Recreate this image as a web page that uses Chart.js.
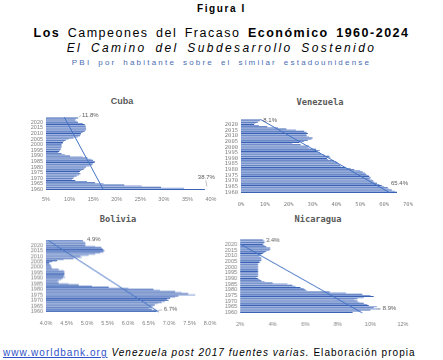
<!DOCTYPE html>
<html>
<head>
<meta charset="utf-8">
<script src="https://cdn.jsdelivr.net/npm/chart.js@4.4.1/dist/chart.umd.min.js"></script>
<style>
  body { margin: 0; width: 443px; height: 360px; background: #fff; position: relative; overflow: hidden; font-family: "Liberation Sans", Arial, sans-serif; }
  .t { position: absolute; white-space: nowrap; text-align: center; line-height: 1; }
  .box { position: absolute; }
  .ctitle { position: absolute; font-weight: bold; color: #595959; text-align: center; white-space: nowrap; line-height: 1; }
  a { color: #2f52c8; }
</style>
</head>
<body>

<div class="t" style="left:0;width:443px;top:4px;font-size:10px;letter-spacing:1.6px;font-weight:bold;">Figura I</div>
<div class="t" style="left:0;width:443px;top:27px;font-size:12.5px;letter-spacing:1.5px;word-spacing:2.5px;"><b>Los</b> Campeones del Fracaso <b>Económico 1960-2024</b></div>
<div class="t" style="left:0;width:443px;top:42px;font-size:12px;font-style:italic;letter-spacing:2.4px;word-spacing:3px;">El Camino del Subdesarrollo Sostenido</div>
<div class="t" style="left:0;width:443px;top:59px;font-size:8px;letter-spacing:2.2px;word-spacing:2.5px;color:#4a6db3;">PBI por habitante sobre el similar estadounidense</div>

<div class="ctitle" style="left:72px;width:100px;top:97px;font-size:9px;">Cuba</div>
<div class="ctitle" style="left:270px;width:100px;top:98px;font-size:8.7px;font-family:'DejaVu Sans Mono',monospace;">Venezuela</div>
<div class="ctitle" style="left:68px;width:100px;top:215px;font-size:8.7px;font-family:'DejaVu Sans Mono',monospace;">Bolivia</div>
<div class="ctitle" style="left:268px;width:100px;top:215px;font-size:8.7px;font-family:'DejaVu Sans Mono',monospace;">Nicaragua</div>

<div class="box" id="b-cuba"><canvas id="cuba"></canvas></div>
<div class="box" id="b-venezuela"><canvas id="venezuela"></canvas></div>
<div class="box" id="b-bolivia"><canvas id="bolivia"></canvas></div>
<div class="box" id="b-nicaragua"><canvas id="nicaragua"></canvas></div>

<div class="t" style="left:3px;top:348px;font-size:10px;letter-spacing:1.05px;text-align:left;"><a href="#">www.worldbank.org</a> <i>Venezuela post 2017 fuentes varias.</i> Elaboración propia</div>

<script>
// years shown on every chart, bottom (1960) to top (2024)
const years = [
  1960, 1961, 1962, 1963, 1964, 1965, 1966, 1967, 1968, 1969,
  1970, 1971, 1972, 1973, 1974, 1975, 1976, 1977, 1978, 1979,
  1980, 1981, 1982, 1983, 1984, 1985, 1986, 1987, 1988, 1989,
  1990, 1991, 1992, 1993, 1994, 1995, 1996, 1997, 1998, 1999,
  2000, 2001, 2002, 2003, 2004, 2005, 2006, 2007, 2008, 2009,
  2010, 2011, 2012, 2013, 2014, 2015, 2016, 2017, 2018, 2019,
  2020, 2021, 2022, 2023, 2024
];
const yearTicks = [1960, 1965, 1970, 1975, 1980, 1985, 1990, 1995, 2000, 2005, 2010, 2015, 2020];

// GDP per capita as % of the US value
const cuba = [
  38.7, 34.3, 29.4, 25.3, 21.6, 17.2, 15.4, 13.7, 11.2, 10.5,
  10.8, 11.0, 11.5, 12.0, 12.3, 12.0, 12.2, 12.5, 13.0, 13.2,
  13.5, 14.2, 14.8, 15.0, 15.3, 15.4, 15.0, 14.5, 13.8, 12.8,
  10.1, 9.0, 8.3, 7.6, 7.8, 8.0, 8.1, 8.2, 8.3, 8.3,
  8.3, 8.5, 8.6, 8.8, 9.2, 9.8, 10.8, 11.8, 12.2, 12.4,
  12.4, 12.8, 13.2, 13.4, 13.5, 13.5, 13.4, 13.4, 13.2, 12.8,
  11.8, 11.5, 11.2, 11.3, 11.8
];
const venezuela = [
  65.4, 64.5, 63.2, 62.0, 61.5, 60.0, 59.0, 58.0, 57.0, 56.0,
  55.5, 55.0, 54.0, 54.5, 53.8, 53.5, 52.5, 52.0, 51.0, 50.0,
  47.5, 46.0, 44.0, 42.0, 41.5, 41.0, 40.5, 40.0, 39.0, 36.5,
  36.0, 37.5, 37.0, 35.0, 33.5, 33.0, 32.0, 33.0, 31.5, 28.5,
  28.0, 28.5, 25.0, 21.5, 24.5, 26.5, 28.0, 29.5, 30.0, 28.5,
  27.5, 27.5, 28.0, 27.5, 26.5, 23.0, 19.0, 15.5, 11.0, 7.5,
  5.5, 6.0, 7.0, 7.8, 8.1
];
const bolivia = [
  6.70, 6.70, 6.58, 6.50, 6.56, 6.62, 6.66, 6.73, 6.82, 6.90,
  6.99, 6.95, 7.03, 7.15, 7.23, 7.64, 7.47, 7.31, 7.15, 6.78,
  6.62, 6.01, 5.53, 5.12, 4.80, 4.55, 4.31, 4.27, 4.31, 4.37,
  4.41, 4.47, 4.43, 4.45, 4.45, 4.45, 4.45, 4.43, 4.31, 4.15,
  4.13, 4.13, 4.11, 4.08, 4.08, 4.15, 4.27, 4.43, 4.67, 4.88,
  4.84, 5.04, 5.20, 5.32, 5.40, 5.43, 5.40, 5.38, 5.35, 5.20,
  4.96, 4.96, 4.96, 4.94, 4.90
];
const nicaragua = [
  8.9, 9.4, 10.0, 10.6, 10.2, 10.4, 9.9, 9.8, 9.6, 9.3,
  9.2, 9.0, 9.2, 9.6, 10.2, 10.0, 9.5, 8.5, 7.5, 6.1,
  6.0, 5.9, 5.7, 5.4, 5.2, 4.9, 4.0, 3.5, 3.3, 3.2,
  3.1, 3.0, 3.1, 3.1, 3.1, 3.1, 3.1, 3.1, 3.1, 3.1,
  3.1, 3.1, 3.1, 3.1, 3.2, 3.2, 3.3, 3.3, 3.3, 3.2,
  3.2, 3.3, 3.4, 3.5, 3.6, 3.8, 3.85, 3.85, 3.6, 3.5,
  3.4, 3.45, 3.5, 3.5, 3.4
];

// linear trend lines: value at 1960 and value at 2024
const cubaTrend = [17.2, 8.9];
const venezuelaTrend = [62.5, 8.1];
const boliviaTrend = [6.75, 4.05];
const nicaraguaTrend = [9.5, 1.5];

const barColors = ['#3b62b2', '#819cd6'];
const tickColor = '#7f7f7f';

// draws the first/last value labels next to their bars
const endLabels = {
  id: 'endLabels',
  afterDatasetsDraw(chart, args, opts) {
    const ctx = chart.ctx;
    const meta = chart.getDatasetMeta(0);
    const vals = chart.data.datasets[0].data;
    const items = [[0, opts.first], [vals.length - 1, opts.last]];
    ctx.save();
    ctx.font = '6px "Liberation Sans", Arial, sans-serif';
    ctx.fillStyle = '#595959';
    ctx.strokeStyle = '#a6a6a6';
    ctx.lineWidth = 0.7;
    ctx.textBaseline = 'middle';
    ctx.textAlign = 'left';
    for (const [i, spec] of items) {
      const el = meta.data[i];
      const txt = vals[i].x.toFixed(1) + '%';
      ctx.fillText(txt, el.x + spec.dx, el.y + spec.dy);
      if (spec.lead) {
        ctx.beginPath();
        ctx.moveTo(el.x + spec.lead[0], el.y + spec.lead[1]);
        ctx.lineTo(el.x + spec.lead[2], el.y + spec.lead[3]);
        ctx.stroke();
      }
    }
    ctx.restore();
  }
};

function makeChart(id, vals, trend, xr, plot, labelPos, tickFont, xPad) {
  const W = plot.r - plot.l + 42, H = plot.b - plot.t + 18;
  const box = document.getElementById('b-' + id);
  box.style.left = (plot.l - 30) + 'px';
  box.style.top = (plot.t - 4) + 'px';
  const cv = document.getElementById(id);
  cv.width = W; cv.height = H;
  cv.style.width = W + 'px'; cv.style.height = H + 'px';

  return new Chart(cv.getContext('2d'), {
    type: 'bar',
    data: {
      datasets: [
        {
          type: 'bar',
          data: years.map((y, i) => ({ x: vals[i], y: y })),
          backgroundColor: years.map((y, i) => barColors[i % 2]),
          borderWidth: 0,
          categoryPercentage: 1,
          barPercentage: 0.9,
          order: 2
        },
        {
          type: 'line',
          data: [{ x: trend[0], y: 1959.5 }, { x: trend[1], y: 2024.5 }],
          borderColor: '#4472c4',
          borderWidth: 1,
          pointRadius: 0,
          fill: false,
          order: 1
        }
      ]
    },
    options: {
      indexAxis: 'y',
      responsive: false,
      animation: false,
      devicePixelRatio: 1,
      layout: { padding: { left: 0, top: 4, right: 12, bottom: 0 } },
      plugins: {
        legend: { display: false },
        tooltip: { enabled: false },
        endLabels: labelPos
      },
      scales: {
        x: {
          type: 'linear',
          min: xr.min, max: xr.max,
          grid: { display: false, drawTicks: false },
          border: { display: false },
          ticks: {
            stepSize: xr.step,
            padding: xPad,
            autoSkip: false,
            maxRotation: 0,
            color: tickColor,
            font: { size: 5.5, family: tickFont },
            callback: v => v.toFixed(xr.dec) + '%'
          },
          afterFit: s => { s.height = 14; }
        },
        y: {
          type: 'linear',
          min: 1959.5, max: 2024.5,
          grid: { display: false, drawTicks: false },
          border: { display: false },
          afterBuildTicks: s => { s.ticks = yearTicks.map(v => ({ value: v })); },
          ticks: {
            padding: 3,
            autoSkip: false,
            color: tickColor,
            font: { size: 5.5, family: tickFont },
            callback: v => String(v)
          },
          afterFit: s => { s.width = 30; }
        }
      }
    },
    plugins: [endLabels]
  });
}

const sans = '"Liberation Sans", Arial, sans-serif';
const mono = '"DejaVu Sans Mono", monospace';

makeChart('cuba', cuba, cubaTrend,
  { min: 5, max: 40, step: 5, dec: 0 },
  { l: 45.7, r: 211, t: 111.7, b: 193.3 },
  { first: { dx: -7, dy: -12, lead: [1, -9, 2, -3] }, last: { dx: 4, dy: -3, lead: [0.5, -0.5, 3, -2.5] } },
  sans, 3);

makeChart('venezuela', venezuela, venezuelaTrend,
  { min: 0, max: 70, step: 10, dec: 0 },
  { l: 240.7, r: 408.5, t: 114.3, b: 196.3 },
  { first: { dx: -6, dy: -9 }, last: { dx: 3, dy: 0.5 } },
  mono, 5);

makeChart('bolivia', bolivia, boliviaTrend,
  { min: 4, max: 8, step: 0.5, dec: 1 },
  { l: 45.7, r: 210, t: 235.2, b: 314.9 },
  { first: { dx: 7, dy: -2, lead: [1.5, -1, 5.5, -1.5] }, last: { dx: 4, dy: -1 } },
  sans, 5);

makeChart('nicaragua', nicaragua, nicaraguaTrend,
  { min: 2, max: 12, step: 2, dec: 0 },
  { l: 240, r: 402.7, t: 233.6, b: 316.3 },
  { first: { dx: 30, dy: -4, lead: [24, -3.5, 28, -3.5] }, last: { dx: 3, dy: 0 } },
  sans, 5);
</script>
</body>
</html>
